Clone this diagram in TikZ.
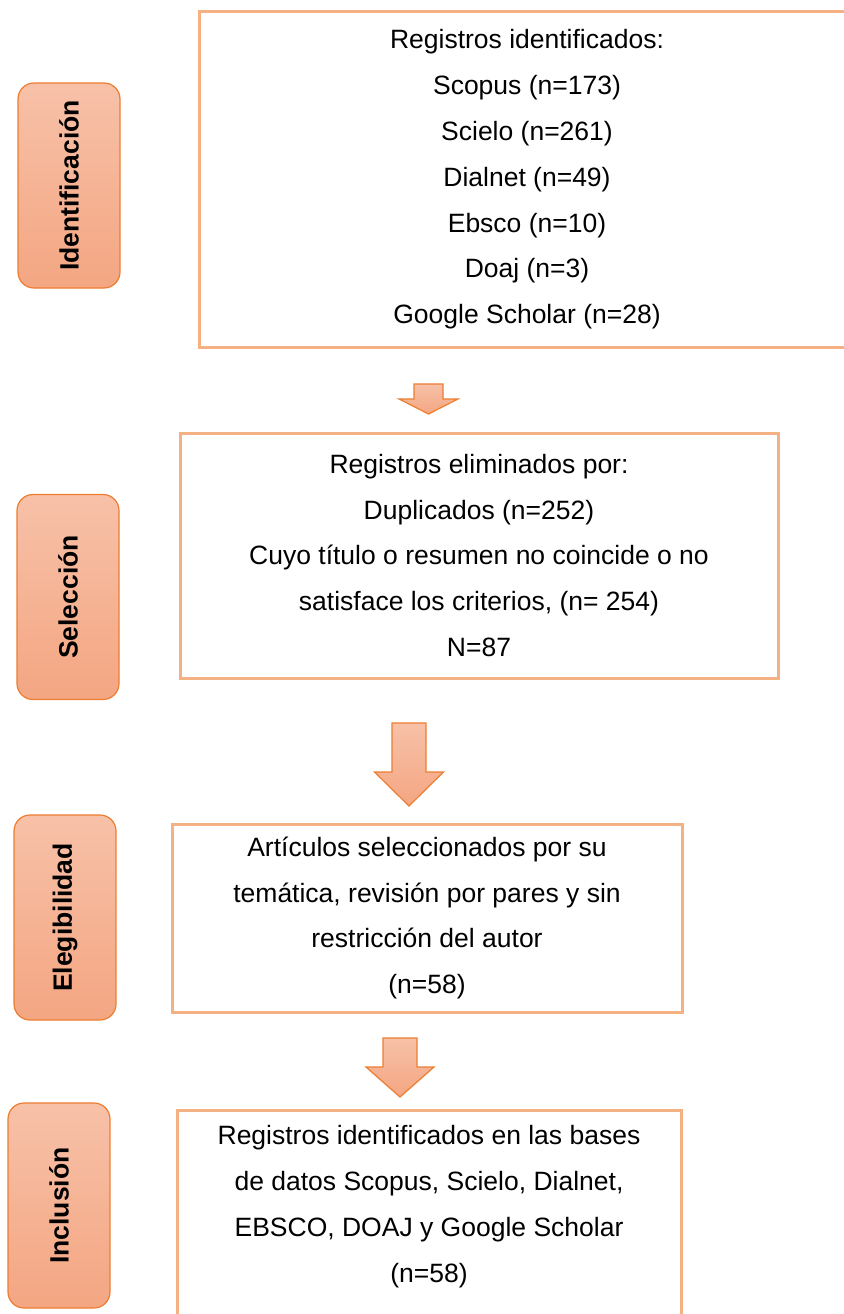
\documentclass[tikz,border=0pt]{standalone}
\usepackage{fontspec}
\setmainfont{Liberation Sans}
\usetikzlibrary{positioning}

\definecolor{boxline}{HTML}{F4B183}
\definecolor{tagline}{HTML}{ED7D31}
\definecolor{tagtop}{RGB}{247,193,168}
\definecolor{tagbottom}{RGB}{244,166,130}

\tikzset{
  stagebox/.style={draw=boxline, line width=3pt, inner sep=0pt, align=center,
    font=\fontsize{26.5}{45.8}\selectfont},
  phasetag/.style={draw=tagline, line width=1.2pt, rounded corners=16pt,
    top color=tagtop, bottom color=tagbottom, minimum width=102pt,
    minimum height=205pt, inner sep=0pt, font=\bfseries\fontsize{26.5}{30}\selectfont},
  blockarrow/.style={draw=tagline, line width=1.2pt, top color=tagtop, bottom color=tagbottom}
}

\begin{document}
\begin{tikzpicture}[x=1pt, y=-1pt]
  \useasboundingbox (0,0) rectangle (843,1314);

  % Phase tags
  \node[phasetag] (tagident) at (69,185.5) {\rotatebox{90}{Identificación}};
  \node[phasetag] (tagselec) at (68,597) {\rotatebox{90}{Selección}};
  \node[phasetag] (tageleg) at (65,917.5) {\rotatebox{90}{Elegibilidad}};
  \node[phasetag] (taginc) at (59,1205.5) {\rotatebox{90}{Inclusión}};

  % Identification
  \node[stagebox, minimum width=656pt, minimum height=335pt] (ident) at (527,179.5)
    {Registros identificados:\\Scopus (n=173)\\Scielo (n=261)\\Dialnet (n=49)\\Ebsco (n=10)\\Doaj (n=3)\\Google Scholar (n=28)};

  % Screening
  \node[stagebox, minimum width=598pt, minimum height=245pt] (selec) at (479,555.5)
    {Registros eliminados por:\\Duplicados (n=252)\\Cuyo título o resumen no coincide o no\\satisface los criterios, (n= 254)\\N=87};

  % Eligibility
  \node[stagebox, minimum width=510pt, minimum height=188pt] (eleg) at (427,918)
    {Artículos seleccionados por su\\temática, revisión por pares y sin\\restricción del autor\\(n=58)};

  % Inclusion
  \node[stagebox, minimum width=504pt, minimum height=206pt] (incframe) at (429,1213) {};
  \node[stagebox, draw=none] (inctext) at (429,1206.5)
    {Registros identificados en las bases\\de datos Scopus, Scielo, Dialnet,\\EBSCO, DOAJ y Google Scholar\\(n=58)};

  % Block arrows
  \path[blockarrow] (414,384) -- (443,384) -- (443,399) -- (458,399) -- (428.5,414)
    -- (399,399) -- (414,399) -- cycle;
  \path[blockarrow] (392,723) -- (426,723) -- (426,772) -- (443.5,772) -- (409,806)
    -- (374.5,772) -- (392,772) -- cycle;
  \path[blockarrow] (383,1038) -- (417,1038) -- (417,1067) -- (434,1067) -- (400,1097)
    -- (366,1067) -- (383,1067) -- cycle;
\end{tikzpicture}
\end{document}
